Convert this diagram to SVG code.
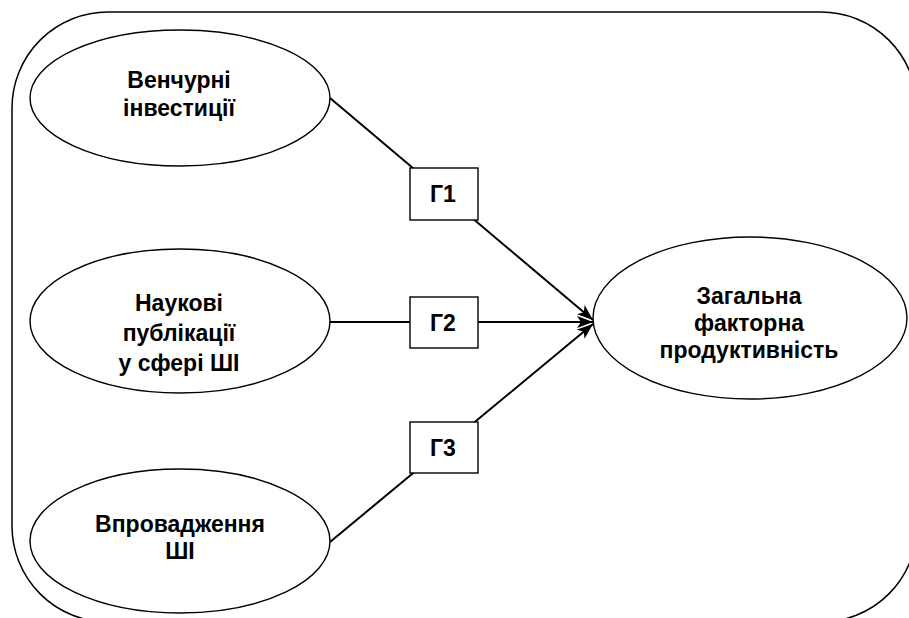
<svg xmlns="http://www.w3.org/2000/svg" width="909" height="618" viewBox="0 0 909 618">
<style>
.frame{fill:none;stroke:#000;stroke-width:1.5}
.node ellipse{fill:#fff;stroke:#000;stroke-width:1.4}
.box rect{fill:#fff;stroke:#000;stroke-width:1.4}
.t{font-family:"Liberation Sans",Arial,sans-serif;font-weight:bold;font-size:23px;text-anchor:middle;fill:#000}
.c{stroke:#000;stroke-width:2;fill:none}
</style>
<defs>
<marker id="ah" viewBox="0 0 16 12" refX="16" refY="6" markerWidth="16" markerHeight="12" markerUnits="userSpaceOnUse" orient="auto">
<path d="M0,0 L16,6 L0,12 L4,6 Z" fill="#000"/>
</marker>
</defs>
<rect class="frame" x="12" y="12" width="905" height="610" rx="96" ry="96"/>
<g id="connectors">
<line class="c" x1="330" y1="98" x2="593" y2="320" marker-end="url(#ah)"/>
<line class="c" x1="330" y1="322" x2="593" y2="322" marker-end="url(#ah)"/>
<line class="c" x1="330" y1="542" x2="593" y2="324" marker-end="url(#ah)"/>
</g>
<g id="n1" class="node">
<ellipse cx="180" cy="98" rx="150" ry="68"/>
<text class="t" x="179" y="88">Венчурні</text>
<text class="t" x="179" y="116">інвестиції</text>
</g>
<g id="n2" class="node">
<ellipse cx="180" cy="321" rx="150" ry="72"/>
<text class="t" x="179" y="311">Наукові</text>
<text class="t" x="179" y="341">публікації</text>
<text class="t" x="179" y="371">у сфері ШІ</text>
</g>
<g id="n3" class="node">
<ellipse cx="180" cy="541" rx="150" ry="72"/>
<text class="t" x="180" y="532">Впровадження</text>
<text class="t" x="180" y="559">ШІ</text>
</g>
<g id="n4" class="node">
<ellipse cx="750" cy="318" rx="157" ry="81"/>
<text class="t" x="749" y="304">Загальна</text>
<text class="t" x="749" y="331">факторна</text>
<text class="t" x="749" y="358">продуктивність</text>
</g>
<g id="g1" class="box">
<rect x="410" y="168" width="68" height="52"/>
<text class="t" x="443" y="202">Г1</text>
</g>
<g id="g2" class="box">
<rect x="410" y="297" width="68" height="51"/>
<text class="t" x="443" y="331">Г2</text>
</g>
<g id="g3" class="box">
<rect x="410" y="422" width="68" height="51"/>
<text class="t" x="443" y="456">Г3</text>
</g>
</svg>
